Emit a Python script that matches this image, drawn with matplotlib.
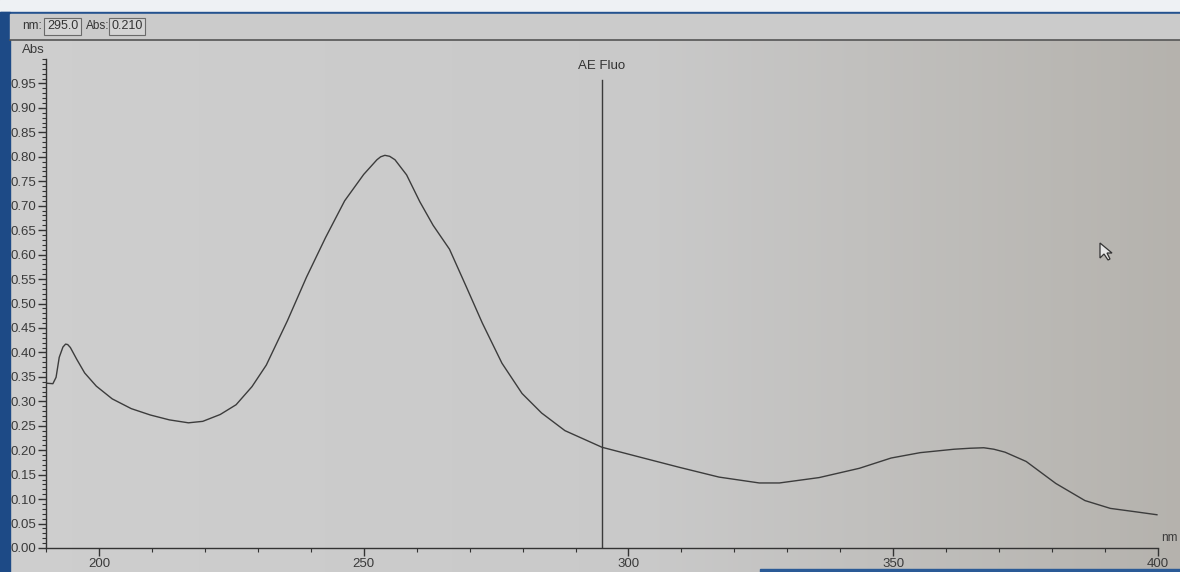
import numpy as np
import matplotlib
matplotlib.use("Agg")
import matplotlib.pyplot as plt
from matplotlib.patches import Rectangle, Polygon
from matplotlib.lines import Line2D
from matplotlib.ticker import MultipleLocator, FormatStrFormatter

# spectrum (nm, Abs)
wavelength = [190.1, 191.3, 191.9, 192.5, 193.2, 193.7, 194.1, 194.6, 195.8, 197.3,
              199.5, 202.5, 206.1, 209.7, 213.3, 216.9, 219.6, 222.9, 225.9, 228.9,
              231.6, 235.6, 239.2, 242.8, 246.4, 250.0, 252.5, 253.2, 254.0, 254.9,
              255.9, 258.1, 260.6, 263.1, 266.2, 269.3, 272.4, 276.1, 279.9, 283.6,
              288.0, 295.0, 302.1, 309.6, 317.1, 324.7, 328.5, 336.0, 343.6, 349.6,
              355.1, 361.5, 364.5, 367.1, 369.0, 371.1, 375.1, 380.7, 386.2, 391.0,
              395.8, 399.8]
absorbance = [0.337, 0.336, 0.349, 0.390, 0.411, 0.417, 0.416, 0.410, 0.386, 0.358,
              0.331, 0.305, 0.285, 0.272, 0.262, 0.256, 0.259, 0.273, 0.293, 0.330,
              0.374, 0.465, 0.554, 0.635, 0.710, 0.764, 0.794, 0.800, 0.803, 0.801,
              0.794, 0.763, 0.708, 0.660, 0.611, 0.536, 0.460, 0.378, 0.316, 0.276,
              0.240, 0.206, 0.186, 0.165, 0.145, 0.133, 0.133, 0.144, 0.163, 0.184,
              0.195, 0.202, 0.204, 0.205, 0.202, 0.196, 0.177, 0.132, 0.097, 0.081,
              0.074, 0.068]

# cursor marker and readout
marker_nm = 295.0
marker_abs = 0.210
marker_label = "AE Fluo"

W, H = 1180, 572


def fx(px):
    return px / W


def fy(py):
    # pixel rows counted from the top
    return 1 - py / H


def draw_window(fig):
    #screen background, light on the left and darker to the right
    bg = fig.add_axes([0, 0, 1, 1], zorder=-10)
    t = np.linspace(0, 1, 300)
    left = np.array([0.81, 0.81, 0.81])
    mid = np.array([0.79, 0.79, 0.79])
    right = np.array([0.71, 0.70, 0.68])
    cols = np.where(t[:, None] < 0.55,
                    left + (mid - left) * (t[:, None] / 0.55),
                    mid + (right - mid) * ((t[:, None] - 0.55) / 0.45))
    img = np.repeat(cols[None, :, :], 2, axis=0)
    bg.imshow(img, aspect="auto", extent=[0, 1, 0, 1], interpolation="bilinear")
    bg.axis("off")

    #window frame: white strip on top, blue borders
    fig.patches.append(Rectangle((0, fy(12)), 1, 12 / H, transform=fig.transFigure,
                                 color="#eef1f4", zorder=-5))
    fig.patches.append(Rectangle((0, fy(14)), 1, 2 / H, transform=fig.transFigure,
                                 color="#24528f", zorder=-4))
    fig.patches.append(Rectangle((0, 0), 10 / W, fy(12), transform=fig.transFigure,
                                 color="#1d4a86", zorder=-4))
    fig.patches.append(Rectangle((fx(760), 0), 1, 3 / H, transform=fig.transFigure,
                                 color="#2a5a96", zorder=-4))

    #toolbar with the readout boxes
    fig.patches.append(Rectangle((fx(10), fy(39)), 1, 25 / H, transform=fig.transFigure,
                                 color="#cbcbcb", zorder=-4))
    fig.lines.append(Line2D([fx(10), 1], [fy(40), fy(40)], transform=fig.transFigure,
                            color="#555555", lw=1.2))
    box = dict(boxstyle="square,pad=0.2", fc="#d4d4d4", ec="#6a6a6a", lw=0.8)
    fig.text(fx(22), fy(26), "nm:", fontsize=8.5, color="#333333", va="center",
             family="Liberation Sans")
    fig.text(fx(47), fy(26), "%.1f" % marker_nm, fontsize=9, color="#333333",
             va="center", family="Liberation Sans", bbox=box)
    fig.text(fx(86), fy(26), "Abs:", fontsize=8.5, color="#333333", va="center",
             family="Liberation Sans")
    fig.text(fx(111), fy(26), "%.3f" % marker_abs, fontsize=9, color="#333333",
             va="center", family="Liberation Sans", bbox=box)

    #mouse pointer
    px, py = 1100, 243
    pts = [(px, py), (px, py + 15), (px + 4, py + 11), (px + 8, py + 17),
           (px + 10, py + 16), (px + 7, py + 10), (px + 12, py + 10)]
    fig.patches.append(Polygon([(fx(a), fy(b)) for a, b in pts], closed=True,
                               transform=fig.transFigure, fc="#e6e6e6",
                               ec="#333333", lw=0.9))


def spectrum_plot(fig):
    ax = fig.add_axes([fx(46), fy(548), fx(1158) - fx(46), fy(59) - fy(548)])
    ax.set_facecolor("none")

    ax.plot(wavelength, absorbance, color="#3c3c3c", lw=1.0)

    #marker line with its label
    ax.plot([marker_nm, marker_nm], [0, 0.958], color="#3a3a3a", lw=1.0)
    ax.text(marker_nm, 0.985, marker_label, ha="center", va="center", fontsize=9.5,
            color="#333333", family="Liberation Sans")

    ax.set_xlim(190, 400)
    ax.set_ylim(0, 1.0)

    for s in ["top", "right"]:
        ax.spines[s].set_visible(False)
    for s in ["left", "bottom"]:
        ax.spines[s].set_color("#333333")
        ax.spines[s].set_linewidth(1.0)

    ax.xaxis.set_major_locator(MultipleLocator(50))
    ax.xaxis.set_minor_locator(MultipleLocator(10))
    ax.yaxis.set_major_locator(MultipleLocator(0.05))
    ax.yaxis.set_minor_locator(MultipleLocator(0.01))
    ax.yaxis.set_major_formatter(FormatStrFormatter("%.2f"))
    ax.set_yticks(np.arange(0, 0.96, 0.05))

    ax.tick_params(axis="both", which="major", direction="out", length=6, width=1,
                   color="#333333", labelcolor="#3a3a3a", labelsize=9.5)
    ax.tick_params(axis="both", which="minor", direction="out", length=3, width=0.8,
                   color="#333333")
    ax.tick_params(axis="y", which="major", pad=1)
    ax.tick_params(axis="x", which="major", pad=1)
    for lab in ax.get_xticklabels() + ax.get_yticklabels():
        lab.set_family("Liberation Sans")

    #axis names in the corners
    fig.text(fx(22), fy(50), "Abs", fontsize=9.5, color="#3a3a3a", va="center",
             family="Liberation Sans")
    fig.text(fx(1161), fy(538), "nm", fontsize=8.5, color="#3a3a3a", va="center",
             family="Liberation Sans")
    return ax


def main():
    fig = plt.figure(figsize=(W / 100, H / 100), dpi=100)
    draw_window(fig)
    spectrum_plot(fig)
    fig.savefig("out.png", dpi=100)


if __name__ == "__main__":
    main()
